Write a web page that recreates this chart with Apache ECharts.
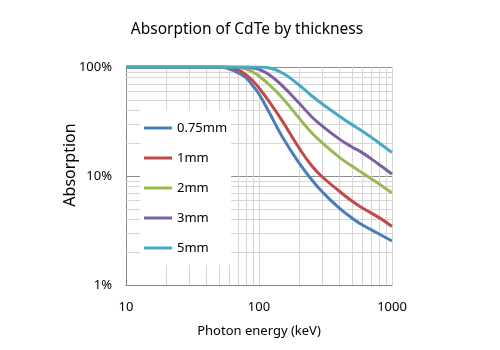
<!DOCTYPE html>
<html>
<head>
<meta charset="utf-8">
<script src="https://cdn.jsdelivr.net/npm/echarts@6/dist/echarts.min.js"></script>
<style>
  html, body { margin: 0; padding: 0; background: #fff; }
  #chart { width: 500px; height: 350px; }
</style>
</head>
<body>
<div id="chart"></div>
<script>
// photon energy (keV)
const energies = [10, 20, 30, 40, 50, 60, 70, 80, 90, 100, 120, 150, 200, 250, 300, 400, 500, 600, 800, 1000];

// absorption (%) per thickness
const abs075 = [100, 100, 100, 100, 100, 95.9, 88.1, 79.3, 67.0, 56.5, 37.8, 22.8, 13.2, 9.2, 7.13, 5.09, 4.12, 3.55, 2.94, 2.53];
const abs1 = [100, 100, 100, 100, 100, 98.9, 93.9, 84.5, 74.4, 64.2, 47.7, 31.9, 18.1, 12.35, 9.79, 7.29, 5.89, 5.09, 4.15, 3.44];
const abs2 = [100, 100, 100, 100, 100, 100, 98.9, 95.9, 90.0, 82.7, 68.4, 51.9, 34.0, 24.8, 20.1, 14.9, 12.35, 10.65, 8.45, 6.98];
const abs3 = [100, 100, 100, 100, 100, 100, 100, 100, 97.9, 94.9, 84.5, 67.0, 46.7, 34.8, 28.7, 21.9, 18.45, 16.3, 12.75, 10.4];
const abs5 = [100, 100, 100, 100, 100, 100, 100, 100, 100, 100, 97.9, 88.1, 68.4, 54.2, 45.8, 35.5, 29.6, 25.7, 20.1, 16.4];

const seriesNames = ["0.75mm", "1mm", "2mm", "3mm", "5mm"];
const seriesColors = ["#4a7ebb", "#be4b48", "#98b954", "#7d60a0", "#46aac5"];

// minor grid lines
const xMinor = [20, 30, 40, 50, 60, 70, 80, 90, 200, 300, 400, 500, 600, 700, 800, 900];
const yMinor = [2, 3, 4, 5, 6, 7, 8, 9, 20, 30, 40, 50, 60, 70, 80, 90];

const font = "Noto Sans";
const chart = echarts.init(document.getElementById("chart"));

const toPairs = (vals) => energies.map((e, i) => [e, vals[i]]);

const curveSeries = [abs075, abs1, abs2, abs3, abs5].map((vals, i) => ({
  name: seriesNames[i],
  type: "line",
  smooth: true,
  symbol: "none",
  z: 3,
  lineStyle: { width: 3, color: seriesColors[i] },
  itemStyle: { color: seriesColors[i] },
  data: toPairs(vals),
}));

// light minor grid, drawn under the curves
const gridSeries = {
  type: "line",
  data: [],
  silent: true,
  z: 1,
  markLine: {
    silent: true,
    z: 1,
    symbol: ["none", "none"],
    label: { show: false },
    lineStyle: { type: "solid", color: "#d6d6d6", width: 1 },
    emphasis: { disabled: true },
    data: [
      ...xMinor.map((v) => ({ xAxis: v })),
      ...yMinor.map((v) => ({ yAxis: v })),
    ],
  },
};

chart.setOption({
  animation: false,
  title: {
    text: "Absorption of CdTe by thickness",
    left: 242,
    textAlign: "center",
    top: 17,
    textStyle: { fontFamily: font, fontSize: 15.5, fontWeight: "normal", color: "#000" },
  },
  grid: { left: 126, right: 108, top: 67, bottom: 65 },
  legend: {
    data: seriesNames,
    orient: "vertical",
    left: 140,
    top: 110,
    padding: [9, 4, 8, 4],
    icon: "rect",
    itemGap: 12,
    itemWidth: 28,
    itemHeight: 3,
    backgroundColor: "#fff",
    textStyle: { fontFamily: font, fontSize: 13, color: "#000", lineHeight: 18 },
  },
  xAxis: {
    type: "log",
    logBase: 10,
    min: 10,
    max: 1000,
    name: "Photon energy (keV)",
    nameLocation: "middle",
    nameGap: 40,
    nameTextStyle: { fontFamily: font, fontSize: 13, color: "#000" },
    axisLine: { lineStyle: { color: "#868686" } },
    axisTick: { show: false },
    axisLabel: {
      fontFamily: font, fontSize: 13, color: "#000", margin: 16,
      formatter: (v) => String(Math.round(v)),
    },
    splitLine: { show: true, lineStyle: { color: "#d6d6d6" } },
  },
  yAxis: {
    type: "log",
    logBase: 10,
    min: 1,
    max: 100,
    name: "Absorption",
    nameLocation: "middle",
    nameGap: 48,
    nameMoveOverlap: false,
    nameTextStyle: { fontFamily: font, fontSize: 16, color: "#000", padding: [0, 0, 0, 22] },
    axisLine: { show: true, lineStyle: { color: "#868686" } },
    axisTick: { show: false },
    axisLabel: {
      fontFamily: font, fontSize: 13, color: "#000", margin: 14,
      formatter: (v) => Math.round(v) + "%",
    },
    splitLine: { show: true, lineStyle: { color: "#8c8c8c" } },
  },
  series: [gridSeries, ...curveSeries],
});
</script>
</body>
</html>
